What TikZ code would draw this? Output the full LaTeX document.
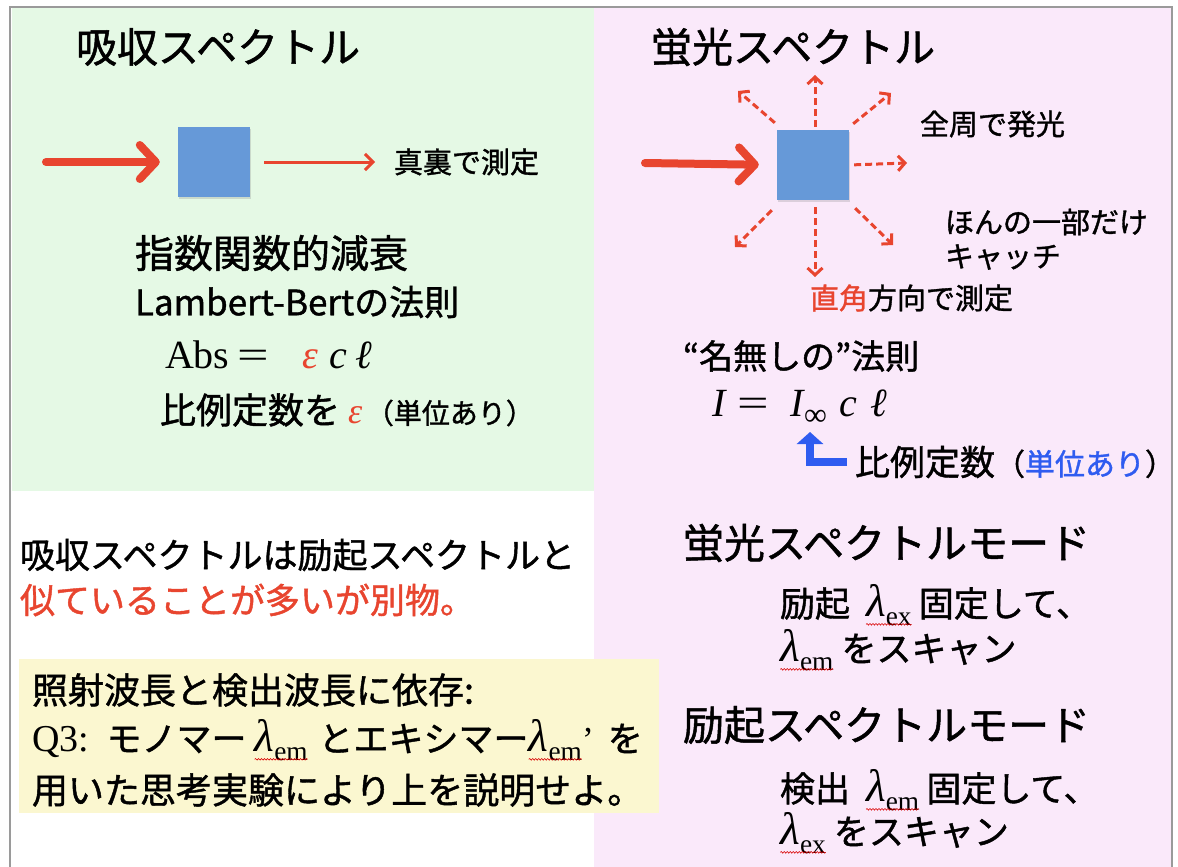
\documentclass[tikz,border=0pt]{standalone}
\usepackage{fontspec}
\usepackage{graphicx}
\setmainfont{Noto Sans CJK JP}[RawFeature={embolden=1.2}]
\newfontfamily\tnr{Liberation Serif}
\usetikzlibrary{arrows.meta,decorations.pathmorphing,shadows}
\definecolor{pgreen}{HTML}{E5F9E5}
\definecolor{ppink}{HTML}{FAE9FA}
\definecolor{pyellow}{HTML}{FBF7D0}
\definecolor{sqblue}{HTML}{6699D8}
\definecolor{ared}{HTML}{E8452F}
\definecolor{tblue}{HTML}{2F5CF0}
\definecolor{bgray}{HTML}{9A9A9A}
\newcommand\fs[1]{\fontsize{#1}{#1}\selectfont}
\newcommand\lam[1]{\scalebox{1.3}{\tnr\itshape λ}\raisebox{-0.24em}{\scalebox{0.78}{\tnr #1}}}
\newcommand\wlam[1]{\tikz[baseline=(wq.base)]{\node[inner sep=0pt,outer sep=0pt](wq){\lam{#1}};\draw[red!85!black,line width=0.6pt,decorate,decoration={snake,amplitude=0.8pt,segment length=3pt}]([yshift=1pt]wq.south west)--([yshift=1pt]wq.south east);}}
\begin{document}
\begin{tikzpicture}[x=1pt,y=-1pt,
  txt/.style={anchor=west,inner sep=0pt,outer sep=0pt},
  sample/.style={fill=sqblue,minimum width=72pt,minimum height=70pt,inner sep=0pt,drop shadow={opacity=0.25,shadow xshift=1pt,shadow yshift=-2pt}},
  bigarrow/.style={draw=ared,line width=8pt,line cap=round,-{Straight Barb[round,length=16pt,width=34pt]}},
  thinarrow/.style={draw=ared,line width=3pt,-{Straight Barb[length=8pt,width=16pt]}},
  dasharrow/.style={draw=ared,line width=3pt,dash pattern=on 7pt off 4pt,-{Straight Barb[length=7pt,width=15pt]}},
  bluearrow/.style={draw=tblue,line width=8pt,-{Triangle[length=12pt,width=26pt]}}]
\useasboundingbox (0,0) rectangle (1178,867);
\fill[white] (0,0) rectangle (1178,867);
\fill[pgreen] (12,8) rectangle (594,491);
\fill[ppink] (594,8) rectangle (1171,867);
\fill[pyellow] (19,659) rectangle (659,813);
\draw[bgray,line width=2.5pt] (10,867) -- (10,7) -- (1172,7) -- (1172,867);

% left panel
\node[txt,font=\fs{41}] (ta) at (76,47) {吸収スペクトル};
\node[sample] (sqA) at (214,162) {};
\coordinate (a0) at (46,162);
\coordinate (a1) at (375,162);
\draw[bigarrow,shorten >=18pt] (a0) -- (sqA.west);
\draw[thinarrow,shorten <=14pt] (sqA.east) -- (a1);
\node[txt,font=\fs{29}] (ma) at (394,162) {真裏で測定};
\node[txt,font=\fs{39}] (ex) at (135,253) {指数関数的減衰};
\node[txt,font=\fs{35}] (lb) at (135,302) {Lambert-Bertの法則};
\node[txt,font=\fs{40}] (abs) at (165,355) {{\tnr Abs}\hspace{8pt}\scalebox{1.4}[1]{\tnr =}\hspace{33pt}{\tnr\itshape\textcolor{ared}{ε}}\hspace{12pt}{\tnr\itshape c}\hspace{8pt}{\tnr\itshape ℓ}};
\node[txt,font=\fs{36}] (hr) at (160,410) {比例定数を {\tnr\itshape\textcolor{ared}{ε}}\hspace{0.1em}{\fs{28}（単位あり）}};

% right panel
\node[txt,font=\fs{41}] (tb) at (651,47) {蛍光スペクトル};
\node[sample] (sqB) at (813,165) {};
\coordinate (b0) at (645,163);
\draw[bigarrow,shorten >=18pt] (b0) -- (sqB.west);
\coordinate (du) at (815,75);
\coordinate (dul) at (738,91);
\coordinate (dur) at (891,93);
\coordinate (dr) at (907,163);
\coordinate (ddl) at (735,247);
\coordinate (dd) at (815,277);
\coordinate (ddr) at (893,245);
\draw[dasharrow,shorten <=3pt] (sqB.north) ++(2,0) coordinate (s1) (s1) -- (du);
\draw[dasharrow] (sqB.north west) ++(-2,-7) coordinate (s2) (s2) -- (dul);
\draw[dasharrow] (sqB.north east) ++(4,-6) coordinate (s3) (s3) -- (dur);
\draw[dasharrow,shorten <=5pt] (sqB.east) -- (dr);
\draw[dasharrow] (sqB.south west) ++(-5,10) coordinate (s4) (s4) -- (ddl);
\draw[dasharrow,shorten <=7pt] (sqB.south) ++(2,0) coordinate (s5) (s5) -- (dd);
\draw[dasharrow] (sqB.south east) ++(6,8) coordinate (s6) (s6) -- (ddr);
\node[txt,font=\fs{29}] (zs) at (920,124) {全周で発光};
\node[txt,font=\fs{29}] (hn) at (945,222) {ほんの一部だけ};
\node[txt,font=\fs{29}] (ct) at (945,257) {キャッチ};
\node[txt,font=\fs{29}] (ck) at (810,298) {\textcolor{ared}{直角}方向で測定};
\node[txt,font=\fs{34}] (nn) at (683,356) {“名無しの”法則};
\node[txt,font=\fs{40}] (ieq) at (712,408) {{\tnr\itshape I}\hspace{12pt}\scalebox{1.4}[1]{\tnr =}\hspace{22pt}{\tnr\itshape I}\raisebox{-9pt}{\scalebox{0.8}{\tnr ∞}}\hspace{12pt}{\tnr\itshape c}\hspace{14pt}{\tnr\itshape ℓ}};
\node[txt,font=\fs{35}] (hk) at (855,462) {比例定数{\fs{30}（\textcolor{tblue}{単位あり}）}};
\coordinate (bt) at (810,432);
\draw[bluearrow] (hk.west) ++(-8,0) coordinate (s7) (s7) -| (bt);

% bottom left
\node[txt,font=\fs{35}] (l1) at (20,555) {吸収スペクトルは励起スペクトルと};
\node[txt,font=\fs{35},text=ared] (l2) at (20,600) {似ていることが多いが別物。};
\node[txt,font=\fs{36}] (q1) at (32,690) {照射波長と検出波長に依存:};
\node[txt,font=\fs{35}] (q2) at (32,740) {{\tnr\fs{38}Q3:}\hspace{0.5em}モノマー \wlam{em}\hspace{0.3em}とエキシマー\wlam{em}{\tnr ’}\hspace{0.4em}を};
\node[txt,font=\fs{36}] (q3) at (32,790) {用いた思考実験により上を説明せよ。};

% bottom right
\node[txt,font=\fs{41}] (fm) at (683,543) {蛍光スペクトルモード};
\node[txt,font=\fs{35}] (f1) at (780,605) {励起\hspace{0.45em}\wlam{ex}\hspace{0.2em}固定して、};
\node[txt,font=\fs{35}] (f2) at (780,650) {\wlam{em} をスキャン};
\node[txt,font=\fs{41}] (em) at (683,725) {励起スペクトルモード};
\node[txt,font=\fs{35}] (e1) at (780,790) {検出\hspace{0.45em}\wlam{em}\hspace{0.2em}固定して、};
\node[txt,font=\fs{35}] (e2) at (780,833) {\wlam{ex} をスキャン};
\end{tikzpicture}
\end{document}
